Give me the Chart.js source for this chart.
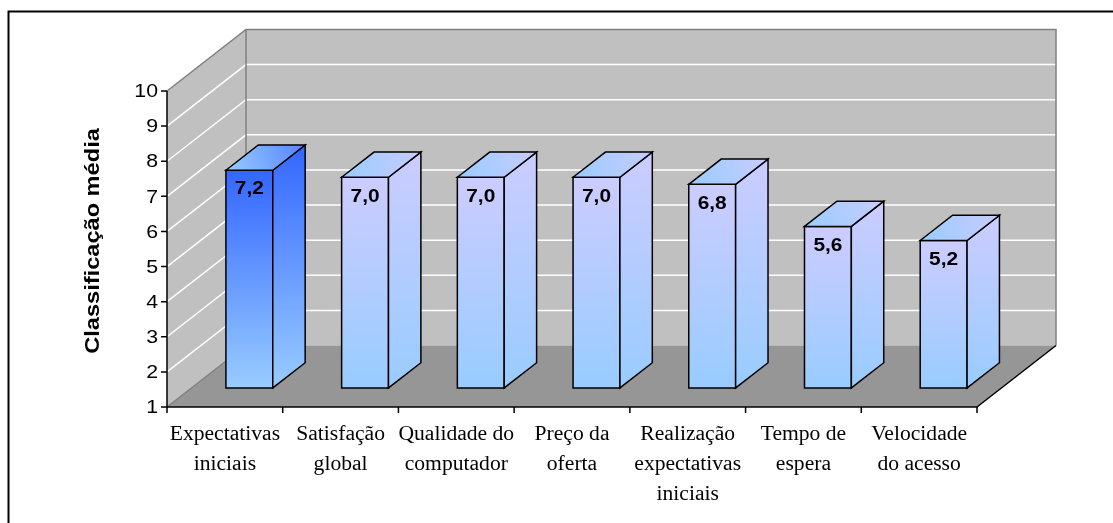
<!DOCTYPE html>
<html>
<head>
<meta charset="utf-8">
<script src="https://cdn.jsdelivr.net/npm/chart.js@4"></script>
<style>
  html, body { margin: 0; padding: 0; background: #fff; }
  #wrap { width: 1113px; height: 523px; }
</style>
</head>
<body>
<div id="wrap"><canvas id="c" width="1113" height="523"></canvas></div>
<script>
// Categories (multi-line labels), average ratings and axis ticks
const categories = [
  ["Expectativas", "iniciais"],
  ["Satisfação", "global"],
  ["Qualidade do", "computador"],
  ["Preço da", "oferta"],
  ["Realização", "expectativas", "iniciais"],
  ["Tempo de", "espera"],
  ["Velocidade", "do acesso"]
];
const ratings = [7.2, 7.0, 7.0, 7.0, 6.8, 5.6, 5.2];
const yTicks = [1, 2, 3, 4, 5, 6, 7, 8, 9, 10];
const axisTitle = "Classificação média";

// 3D projection of the depth axis
const DEPTH_X = 79, DEPTH_Y = 61.5;
const BAR_FRONT = 0.31, BAR_BACK = 0.72;

const SANS = "'Liberation Sans', Arial, sans-serif";
const SERIF = "'Liberation Serif', 'Times New Roman', serif";

function text(ctx, s, x, y, font, sx, align, baseline, rot) {
  ctx.save();
  ctx.translate(x, y);
  if (rot) ctx.rotate(rot);
  ctx.scale(sx, 1);
  ctx.font = font;
  ctx.fillStyle = '#000';
  ctx.textAlign = align;
  ctx.textBaseline = baseline;
  ctx.fillText(s, 0, 0);
  ctx.restore();
}

function poly(ctx, pts, fill, stroke, lw) {
  ctx.beginPath();
  ctx.moveTo(pts[0][0], pts[0][1]);
  for (let i = 1; i < pts.length; i++) ctx.lineTo(pts[i][0], pts[i][1]);
  ctx.closePath();
  if (fill) { ctx.fillStyle = fill; ctx.fill(); }
  if (stroke) { ctx.strokeStyle = stroke; ctx.lineWidth = lw || 1; ctx.stroke(); }
}

const box3d = {
  id: 'box3d',
  beforeDatasetsDraw(chart) {
    const ctx = chart.ctx;
    const xs = chart.scales.x, ys = chart.scales.y;
    const L = xs.left, R = xs.right;
    const T = ys.getPixelForValue(ys.max), B = ys.getPixelForValue(ys.min);
    ctx.save();
    // back wall
    poly(ctx, [[L + DEPTH_X, T - DEPTH_Y], [R + DEPTH_X, T - DEPTH_Y], [R + DEPTH_X, B - DEPTH_Y], [L + DEPTH_X, B - DEPTH_Y]], '#c0c0c0', null);
    // side wall
    poly(ctx, [[L, T], [L + DEPTH_X, T - DEPTH_Y], [L + DEPTH_X, B - DEPTH_Y], [L, B]], '#c0c0c0', null);
    // floor
    poly(ctx, [[L, B], [L + DEPTH_X, B - DEPTH_Y], [R + DEPTH_X, B - DEPTH_Y], [R, B]], '#969696', null);
    // gridlines
    ctx.strokeStyle = '#ffffff';
    ctx.lineWidth = 1.5;
    yTicks.forEach(v => {
      if (v === ys.min || v === ys.max) return;
      const y = ys.getPixelForValue(v);
      ctx.beginPath();
      ctx.moveTo(L, y);
      ctx.lineTo(L + DEPTH_X, y - DEPTH_Y);
      ctx.lineTo(R + DEPTH_X, y - DEPTH_Y);
      ctx.stroke();
    });
    // wall edges
    ctx.strokeStyle = '#808080';
    ctx.lineWidth = 1.5;
    ctx.beginPath();
    ctx.moveTo(L, T);
    ctx.lineTo(L + DEPTH_X, T - DEPTH_Y);
    ctx.lineTo(R + DEPTH_X, T - DEPTH_Y);
    ctx.lineTo(R + DEPTH_X, B - DEPTH_Y);
    ctx.moveTo(L + DEPTH_X, T - DEPTH_Y);
    ctx.lineTo(L + DEPTH_X, B - DEPTH_Y);
    ctx.moveTo(L, B);
    ctx.lineTo(L + DEPTH_X, B - DEPTH_Y);
    ctx.stroke();
    ctx.strokeStyle = '#000';
    ctx.beginPath();
    ctx.moveTo(R, B);
    ctx.lineTo(R + DEPTH_X, B - DEPTH_Y);
    ctx.stroke();
    ctx.restore();
  },
  afterDatasetsDraw(chart) {
    const ctx = chart.ctx;
    const xs = chart.scales.x, ys = chart.scales.y;
    const L = xs.left, R = xs.right;
    const T = ys.getPixelForValue(ys.max), B = ys.getPixelForValue(ys.min);
    const meta = chart.getDatasetMeta(0);
    const fdx = DEPTH_X * BAR_FRONT, fdy = DEPTH_Y * BAR_FRONT;
    const bdx = DEPTH_X * (BAR_BACK - BAR_FRONT), bdy = DEPTH_Y * (BAR_BACK - BAR_FRONT);
    ctx.save();
    meta.data.forEach((el, i) => {
      const w = el.width;
      const left = el.x - w / 2 + fdx, right = left + w;
      const top = el.y - fdy, bottom = B - fdy;
      const first = i === 0;
      const front = ctx.createLinearGradient(0, top, 0, bottom);
      front.addColorStop(0, first ? '#3366ff' : '#ccccff');
      front.addColorStop(1, '#99ccff');
      const side = ctx.createLinearGradient(0, top - bdy, 0, bottom);
      side.addColorStop(0, first ? '#3366ff' : '#ccccff');
      side.addColorStop(1, '#99ccff');
      const lid = ctx.createLinearGradient(left, top, right + bdx, top - bdy);
      lid.addColorStop(0, '#99ccff');
      lid.addColorStop(1, first ? '#5585ff' : '#c8ccff');
      poly(ctx, [[left, top], [right, top], [right, bottom], [left, bottom]], front, '#000', 1.5);
      poly(ctx, [[right, top], [right + bdx, top - bdy], [right + bdx, bottom - bdy], [right, bottom]], side, '#000', 1.5);
      poly(ctx, [[left, top], [left + bdx, top - bdy], [right + bdx, top - bdy], [right, top]], lid, '#000', 1.5);
      const label = ratings[i].toFixed(1).replace('.', ',');
      text(ctx, label, (left + right) / 2, top + 19, 'bold 19px ' + SANS, 1.1, 'center', 'middle');
    });

    // value axis
    ctx.strokeStyle = '#000';
    ctx.lineWidth = 1.5;
    ctx.beginPath();
    ctx.moveTo(L, T);
    ctx.lineTo(L, B);
    yTicks.forEach(v => {
      const y = ys.getPixelForValue(v);
      ctx.moveTo(L - 6, y);
      ctx.lineTo(L, y);
    });
    // category axis
    ctx.moveTo(L, B);
    ctx.lineTo(R, B);
    const n = categories.length;
    for (let i = 0; i <= n; i++) {
      const x = L + (R - L) * i / n;
      ctx.moveTo(x, B);
      ctx.lineTo(x, B + 6);
    }
    ctx.stroke();

    yTicks.forEach(v => {
      text(ctx, String(v), L - 9, ys.getPixelForValue(v) + 1, '19px ' + SANS, 1.12, 'right', 'middle');
    });
    categories.forEach((lines, i) => {
      const x = xs.getPixelForValue(i);
      lines.forEach((s, k) => {
        text(ctx, s, x, B + 28 + k * 30, '20px ' + SERIF, 1.08, 'center', 'middle');
      });
    });
    text(ctx, axisTitle, 93, 241, 'bold 20px ' + SANS, 1.18, 'center', 'middle', -Math.PI / 2);

    // outer frame
    ctx.lineWidth = 2;
    ctx.strokeStyle = '#000';
    ctx.strokeRect(8.5, 11.5, 1300, 700);
    ctx.restore();
  }
};

new Chart(document.getElementById('c'), {
  type: 'bar',
  data: {
    labels: categories,
    datasets: [{
      data: ratings,
      backgroundColor: 'rgba(0,0,0,0)',
      borderWidth: 0,
      barPercentage: 0.405,
      categoryPercentage: 1
    }]
  },
  options: {
    responsive: false,
    animation: false,
    devicePixelRatio: 1,
    layout: { padding: { left: 167, right: 136, top: 91, bottom: 116 } },
    scales: {
      x: { display: false, offset: true },
      y: { display: false, min: 1, max: 10 }
    },
    plugins: { legend: { display: false }, tooltip: { enabled: false } }
  },
  plugins: [box3d]
});
</script>
</body>
</html>
